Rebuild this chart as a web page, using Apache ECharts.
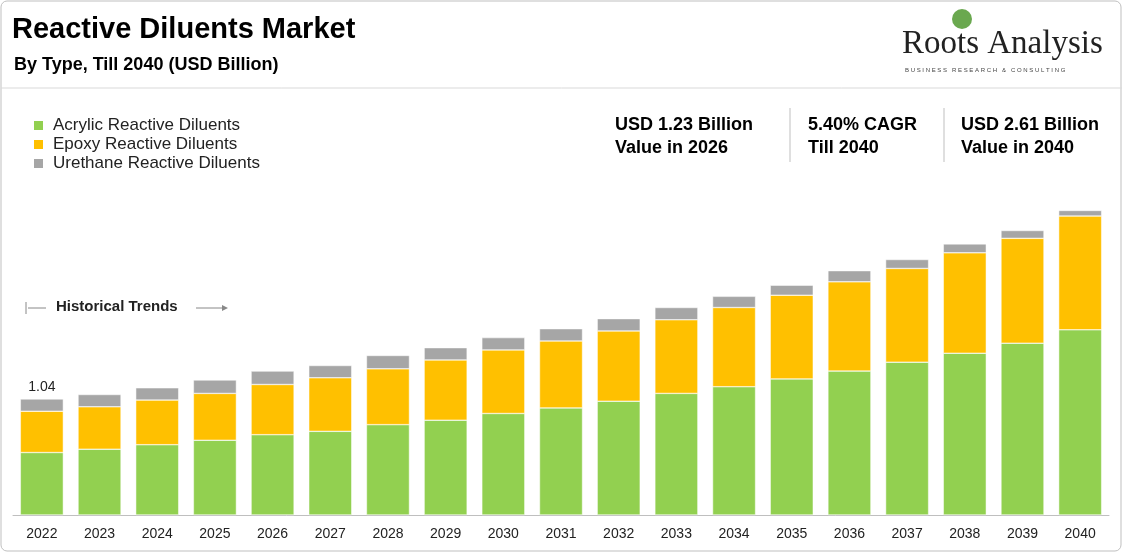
<!DOCTYPE html>
<html><head><meta charset="utf-8">
<script src="https://cdn.jsdelivr.net/npm/echarts@6/dist/echarts.min.js"></script>
<style>html,body{margin:0;padding:0;background:#fff}#c{width:1123px;height:553px}</style>
</head><body><div id="c"></div>
<script>
const years=['2022','2023','2024','2025','2026','2027','2028','2029','2030','2031','2032','2033','2034','2035','2036','2037','2038','2039','2040'];
const acrylic=[0.56,0.59,0.63,0.67,0.72,0.75,0.81,0.85,0.91,0.96,1.02,1.09,1.15,1.22,1.29,1.37,1.45,1.54,1.66];
const epoxy=[0.37,0.38,0.40,0.42,0.45,0.48,0.50,0.54,0.57,0.60,0.63,0.66,0.71,0.75,0.80,0.84,0.90,0.94,1.02];
const urethane=[0.11,0.11,0.11,0.12,0.12,0.11,0.12,0.11,0.11,0.11,0.11,0.11,0.10,0.09,0.10,0.08,0.08,0.07,0.05];
const F='Arial, "Liberation Sans", sans-serif';
const ch=echarts.init(document.getElementById('c'));
const mk=(name,data,color)=>({name,type:'bar',stack:'t',data,barWidth:43,itemStyle:{color,borderColor:'#fff',borderWidth:0.5}});
const sTop=mk('Urethane Reactive Diluents',urethane,'#a6a6a6');
sTop.label={show:true,position:'top',color:'#222',fontFamily:F,fontSize:14,formatter:p=>p.dataIndex===0?'1.04':''};
ch.setOption({
 animation:false,
 grid:{left:13,right:14,top:100,bottom:38},
 xAxis:{type:'category',data:years,axisLine:{lineStyle:{color:'#bfbfbf'}},axisTick:{show:false},axisLabel:{color:'#222',fontSize:14,fontFamily:F,margin:12}},
 yAxis:{type:'value',min:0,max:3.72,show:false,splitLine:{show:false}},
 legend:{left:27,top:112,orient:'vertical',itemWidth:11,itemHeight:11,itemGap:2,icon:'rect',textStyle:{fontFamily:F,fontSize:17,fontWeight:500,color:'#222',padding:[0,0,0,4]},data:['Acrylic Reactive Diluents','Epoxy Reactive Diluents','Urethane Reactive Diluents']},
 series:[mk('Acrylic Reactive Diluents',acrylic,'#92d050'),mk('Epoxy Reactive Diluents',epoxy,'#ffc000'),sTop],
 graphic:[
  {type:'rect',shape:{x:1,y:1,width:1120,height:550,r:6},style:{fill:'none',stroke:'#bfbfbf',lineWidth:1}},
  {type:'line',shape:{x1:1,y1:88,x2:1122,y2:88},style:{stroke:'#d9d9d9',lineWidth:1}},
  {type:'text',left:12,top:15,style:{text:'Reactive Diluents Market',font:'bold 29px '+F,fill:'#000'}},
  {type:'text',left:14,top:56,style:{text:'By Type, Till 2040 (USD Billion)',font:'bold 18px '+F,fill:'#000'}},
  {type:'text',left:902,top:28,style:{text:'Roots Analysis',font:'33px "Liberation Serif", serif',fill:'#222'}},
  {type:'text',left:905,top:67,style:{text:'B U S I N E S S   R E S E A R C H   &   C O N S U L T I N G',font:'6px '+F,fill:'#444'}},
  {type:'circle',shape:{cx:962,cy:19,r:10},style:{fill:'#6aa84f'}},
  {type:'text',left:615,top:114,style:{text:'USD 1.23 Billion\nValue in 2026',font:'bold 18px '+F,fill:'#000',lineHeight:23}},
  {type:'text',left:808,top:114,style:{text:'5.40% CAGR\nTill 2040',font:'bold 18px '+F,fill:'#000',lineHeight:23}},
  {type:'text',left:961,top:114,style:{text:'USD 2.61 Billion\nValue in 2040',font:'bold 18px '+F,fill:'#000',lineHeight:23}},
  {type:'line',shape:{x1:790,y1:108,x2:790,y2:162},style:{stroke:'#bfbfbf',lineWidth:1}},
  {type:'line',shape:{x1:944,y1:108,x2:944,y2:162},style:{stroke:'#bfbfbf',lineWidth:1}},
  {type:'line',shape:{x1:26,y1:302,x2:26,y2:314},style:{stroke:'#888',lineWidth:1}},
  {type:'line',shape:{x1:28,y1:308,x2:46,y2:308},style:{stroke:'#888',lineWidth:1}},
  {type:'text',left:56,top:299,style:{text:'Historical Trends',font:'bold 15px '+F,fill:'#222'}},
  {type:'line',shape:{x1:196,y1:308,x2:226,y2:308},style:{stroke:'#888',lineWidth:1}},
  {type:'polygon',shape:{points:[[228,308],[222,305],[222,311]]},style:{fill:'#888'}}
 ]
});
</script></body></html>
